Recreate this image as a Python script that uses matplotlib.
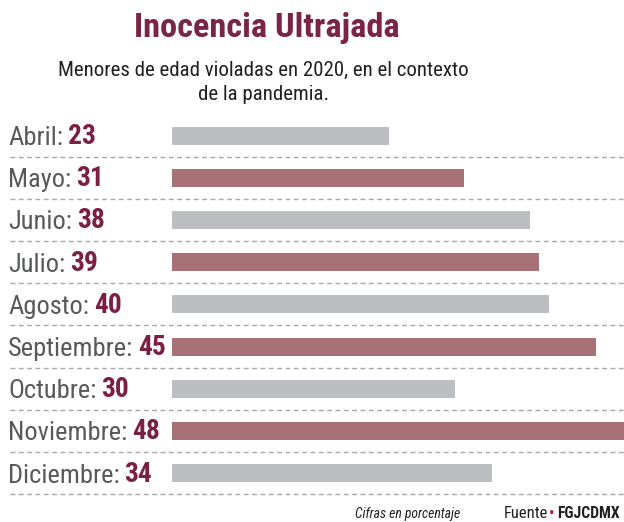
import matplotlib
matplotlib.use("Agg")
import matplotlib.pyplot as plt
from matplotlib import font_manager

months = ["Abril", "Mayo", "Junio", "Julio", "Agosto", "Septiembre",
          "Octubre", "Noviembre", "Diciembre"]
values = [23, 31, 38, 39, 40, 45, 30, 48, 34]

names = {f.name for f in font_manager.fontManager.ttflist}
candidates = ["Roboto Condensed", "Open Sans Condensed", "Noto Sans Condensed",
              "Liberation Sans Narrow", "DejaVu Sans Condensed",
              "Noto Sans SemiCondensed", "Roboto", "Lato", "DejaVu Sans"]
FONT = next(c for c in candidates if c in names)

W, H = 624, 522
DPI = 100
fig = plt.figure(figsize=(W / DPI, H / DPI), dpi=DPI)
fig.patch.set_facecolor("white")

MAROON = "#7b1f45"
LABEL_GRAY = "#58595b"
BAR_GRAY = "#bdbec2"
BAR_ROSE = "#a87176"
TEXT_DARK = "#231f20"

row0, step = 135.5, 42.2
n = len(months)
top = row0 - step / 2
bottom = row0 + step * (n - 0.5)
ax = fig.add_axes([172 / W, 1 - bottom / H, (624 - 172) / W, (bottom - top) / H])
ax.set_xlim(0, 48)
ax.set_ylim(n - 0.5, -0.5)
colors = [BAR_GRAY if i % 2 == 0 else BAR_ROSE for i in range(n)]
ax.barh(range(n), values, height=18 / step, color=colors, linewidth=0)
ax.axis("off")

ov = fig.add_axes([0, 0, 1, 1])
ov.set_xlim(0, W)
ov.set_ylim(H, 0)
ov.axis("off")
ov.set_zorder(3)
for i in range(n):
    y = row0 + step * (i + 0.5)
    ov.plot([10, W], [y, y], color="#a7a8aa", lw=1.0, ls=(0, (3.5, 2.5)))

fig.canvas.draw()
renderer = fig.canvas.get_renderer()


def fit_size(s, target, **kw):
    t = ov.text(0, 0, s, fontsize=10, family=FONT, **kw)
    w = t.get_window_extent(renderer).width
    t.remove()
    return 10 * target / w


LFS = fit_size("Septiembre:", 124)
NFS = fit_size("45", 28, fontweight="bold")
for i, (m, v) in enumerate(zip(months, values)):
    y = row0 + step * i
    t = ov.text(8, y, m + ":", fontsize=LFS, family=FONT, color=LABEL_GRAY,
                va="center_baseline", ha="left")
    ov.annotate(str(v), xy=(1, 0), xycoords=t, xytext=(3.5, 0),
                textcoords="offset points", fontsize=NFS, family=FONT,
                fontweight="bold", color=MAROON, va="bottom", ha="left")

TFS = fit_size("Inocencia Ultrajada", 265, fontweight="bold")
ov.text(267, 37, "Inocencia Ultrajada", fontsize=TFS, family=FONT,
        fontweight="bold", color="#7a2447", ha="center", va="baseline")
SFS = fit_size("Menores de edad violadas en 2020, en el contexto", 408)
ov.text(263, 76, "Menores de edad violadas en 2020, en el contexto",
        fontsize=SFS, family=FONT, color=TEXT_DARK, ha="center", va="baseline")
ov.text(264, 100, "de la pandemia.",
        fontsize=SFS, family=FONT, color=TEXT_DARK, ha="center", va="baseline")

CFS = fit_size("Cifras en porcentaje", 105, style="italic")
ov.text(460, 518, "Cifras en porcentaje", fontsize=CFS, family=FONT,
        style="italic", color=TEXT_DARK, ha="right", va="baseline")
FFS = fit_size("Fuente", 44)
f1 = ov.text(504, 518, "Fuente", fontsize=FFS, family=FONT, color=TEXT_DARK,
             ha="left", va="baseline")
f2 = ov.annotate("•", xy=(1, 0), xycoords=f1, xytext=(0.5, 0),
                 textcoords="offset points", fontsize=FFS, family=FONT,
                 color="#c0143c", ha="left", va="bottom")
GFS = fit_size("FGJCDMX", 62, fontweight="bold")
ov.annotate("FGJCDMX", xy=(1, 0), xycoords=f2, xytext=(1.5, 0),
            textcoords="offset points", fontsize=GFS, family=FONT,
            fontweight="bold", color=TEXT_DARK, ha="left", va="bottom")

fig.savefig("out.png", dpi=DPI, facecolor="white")
